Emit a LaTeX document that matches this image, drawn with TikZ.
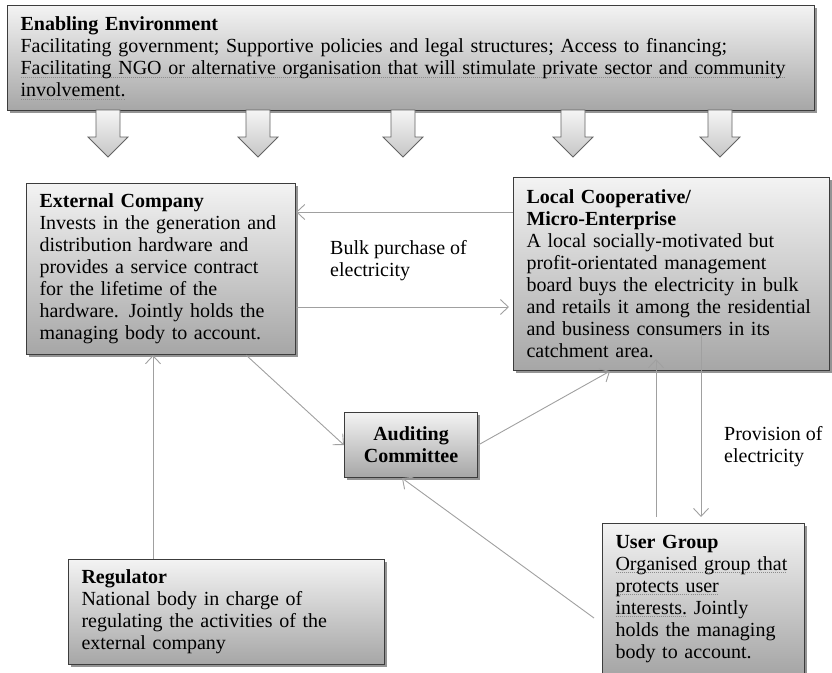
\documentclass[tikz,border=0pt]{standalone}
\usepackage{fontspec}
\setmainfont{Liberation Serif}
\usetikzlibrary{
    positioning,
    arrows.meta,
    shadows
}

\definecolor{boxline}{HTML}{3C3C3C}
\definecolor{boxtop}{HTML}{F3F3F3}
\definecolor{boxbottom}{HTML}{A6A6A6}
\definecolor{linkgray}{HTML}{A0A0A0}
\definecolor{squiggle}{HTML}{8C8C8C}

% dotted grey underline under flagged words
\newsavebox{\squigbox}
\newcommand{\squig}[1]{%
    \leavevmode
    \sbox{\squigbox}{#1}%
    \rlap{\lower3pt\hbox to\wd\squigbox{\color{squiggle}\xleaders\hbox{\rule{1pt}{0.6pt}\kern1pt}\hfill}}%
    \usebox{\squigbox}}

\tikzset{
    >={Straight Barb[length=8pt,width=15pt]},
    box/.style={
        draw=boxline,
        line width=1.1pt,
        top color=boxtop,
        bottom color=boxbottom,
        drop shadow={shadow xshift=2pt, shadow yshift=-2pt, opacity=0.6, fill=black!70},
        anchor=north west,
        align=left,
        inner xsep=13pt,
        inner ysep=4pt,
        font=\fontsize{20}{22}\selectfont
    },
    note/.style={
        anchor=north west,
        align=left,
        inner sep=0pt,
        font=\fontsize{20}{22}\selectfont
    },
    link/.style={
        ->,
        draw=linkgray,
        line width=0.9pt
    },
    blockarrow/.style={
        draw=boxline!80,
        line width=0.8pt,
        top color=gray!8,
        bottom color=gray!45
    }
}

\begin{document}
\begin{tikzpicture}[x=1pt, y=-1pt]

    \useasboundingbox (0,0) rectangle (832,672);

    % Boxes
    \node[box, text width=781pt, minimum height=105pt] (env) at (7,5)
        {\textbf{Enabling Environment}\\
         Facilitating government; Supportive policies and legal structures; Access to financing;\\
         \squig{Facilitating NGO or alternative organisation that will stimulate private sector and community}\\
         \squig{involvement.}};

    \node[box, text width=243pt, minimum height=171pt] (ext) at (26,183)
        {\textbf{External Company}\\
         Invests in the generation and\\
         distribution hardware and\\
         provides a service contract\\
         for the lifetime of the\\
         hardware. Jointly holds the\\
         managing body to account.};

    \node[box, text width=290pt, minimum height=193pt] (coop) at (513,177)
        {\textbf{Local Cooperative/}\\
         \textbf{Micro-Enterprise}\\
         A local socially-motivated but\\
         profit-orientated management\\
         board buys the electricity in bulk\\
         and retails it among the residential\\
         and business consumers in its\\
         catchment area.};

    \node[box, align=center, inner xsep=4pt, minimum width=133pt, minimum height=65pt,
          font=\fontsize{20}{22}\selectfont\bfseries] (aud) at (344,412)
        {Auditing\\Committee};

    \node[box, text width=290pt, minimum height=105pt] (reg) at (68,559)
        {\textbf{Regulator}\\
         National body in charge of\\
         regulating the activities of the\\
         external company};

    \node[box, text width=176pt, minimum height=150pt] (user) at (602,523)
        {\textbf{User Group}\\
         \squig{Organised group that}\\
         \squig{protects user}\\
         \squig{interests.} Jointly\\
         holds the managing\\
         body to account.};

    % Arrows from the enabling environment
    \foreach \x in {108,258,403,573,720}
        \draw[blockarrow] (\x-12,110) -- (\x-12,137) -- (\x-20,137) -- (\x,157)
            -- (\x+20,137) -- (\x+12,137) -- (\x+12,110) -- cycle;

    % Edge labels
    \node[note] (bulk) at (330,240) {Bulk purchase of\\electricity};
    \node[note] (prov) at (724,426) {Provision of\\electricity};

    % Connectors
    \draw[link] ([yshift=-35pt]coop.north west) -- ([yshift=-29pt]ext.north east);
    \draw[link, shorten >=4pt] ([yshift=-124pt]ext.north east) -- ([yshift=-130pt]coop.north west);
    \draw[link] ([xshift=-50pt]ext.south east) -- (aud.west);
    \draw[link] (aud.east) -- ([xshift=97pt]coop.south west);
    \draw[link] ([xshift=85pt]reg.north west) -- ([xshift=127pt]ext.south west);
    \draw[link] ([xshift=-8pt,yshift=-95pt]user.north west) -- ([xshift=58pt]aud.south west);
    \draw[link] ([xshift=54pt,yshift=6pt]user.north west) -- ([xshift=143pt,yshift=12pt]coop.south west);
    \draw[link] ([xshift=188pt,yshift=38pt]coop.south west) -- ([xshift=99pt,yshift=6pt]user.north west);

\end{tikzpicture}
\end{document}
